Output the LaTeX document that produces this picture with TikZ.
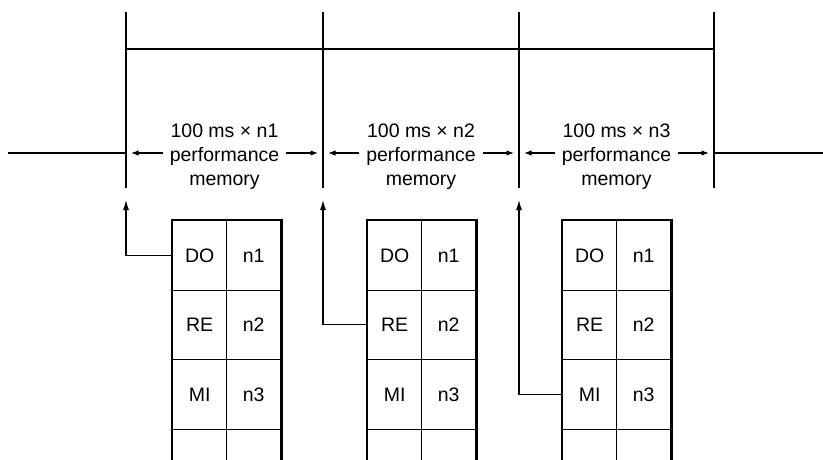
\documentclass[tikz,border=0pt]{standalone}
\usepackage{fontspec}
\setmainfont{Liberation Sans}
\usetikzlibrary{arrows.meta}
\begin{document}
\begin{tikzpicture}[x=1pt,y=-1pt,
  pulse/.style={line width=2.8pt, line join=miter},
  marker/.style={line width=1.1pt},
  dimline/.style={line width=1.1pt,-{Latex[length=7.5pt,width=5.5pt]}},
  feed/.style={line width=1.1pt,-{Latex[length=10pt,width=6pt]}},
  cell/.style={draw, line width=1.3pt, minimum width=54pt, minimum height=69.5pt,
    inner sep=0pt, anchor=north west, font=\fontsize{19.5}{23}\selectfont},
  frame/.style={line width=2.8pt, line join=miter},
  lab/.style={align=center, inner sep=0pt, font=\fontsize{19.5}{24}\selectfont}]
\useasboundingbox (0,0) rectangle (823,459);
\clip (0,0) rectangle (823,459);

% vertical marker lines
\foreach \n/\x in {1/126,2/323,3/519,4/714} {
  \coordinate (top\n) at (\x,12);
  \coordinate (bot\n) at (\x,188);
  \coordinate (v\n) at (\x,153);
  \coordinate (hi\n) at (\x,49);
  \coordinate (in\n) at (\x,200);
  \draw[marker] (top\n) -- (bot\n);
}

% pulse
\coordinate (pl) at (8,153);
\coordinate (pr) at (830,153);
\draw[pulse] (pl) -- (v1) -- (hi1) -- (hi4) -- (v4) -- (pr);

% labels
\node[lab] (lab1) at (224.5,157) {100 ms × n1\\performance\\memory};
\node[lab] (lab2) at (421,157) {100 ms × n2\\performance\\memory};
\node[lab] (lab3) at (616.5,157) {100 ms × n3\\performance\\memory};

% dimension arrows
\draw[dimline] ([xshift=-7pt]lab1.west |- v1) -- ([xshift=5pt]v1);
\draw[dimline] ([xshift=7pt]lab1.east |- v2) -- ([xshift=-5pt]v2);
\draw[dimline] ([xshift=-7pt]lab2.west |- v2) -- ([xshift=5pt]v2);
\draw[dimline] ([xshift=7pt]lab2.east |- v3) -- ([xshift=-5pt]v3);
\draw[dimline] ([xshift=-7pt]lab3.west |- v3) -- ([xshift=5pt]v3);
\draw[dimline] ([xshift=7pt]lab3.east |- v4) -- ([xshift=-5pt]v4);

% tables
\foreach \tb/\x in {1/172,2/367,3/562} {
  \foreach \rw/\cellA/\cellB [count=\i from 0] in {1/DO/n1,2/RE/n2,3/MI/n3,4//} {
    \node[cell] (c\tb\rw L) at (\x, 220+69.5*\i) {\cellA};
    \node[cell] (c\tb\rw R) at (\x+54, 220+69.5*\i) {\cellB};
  }
  \draw[frame] (c\tb4L.south west) -- (c\tb1L.north west) -- (c\tb1R.north east) -- (c\tb4R.south east);
}

% feed connectors
\draw[feed] (c11L.west) -| (in1);
\draw[feed] (c22L.west) -| (in2);
\draw[feed] (c33L.west) -| (in3);
\end{tikzpicture}
\end{document}
